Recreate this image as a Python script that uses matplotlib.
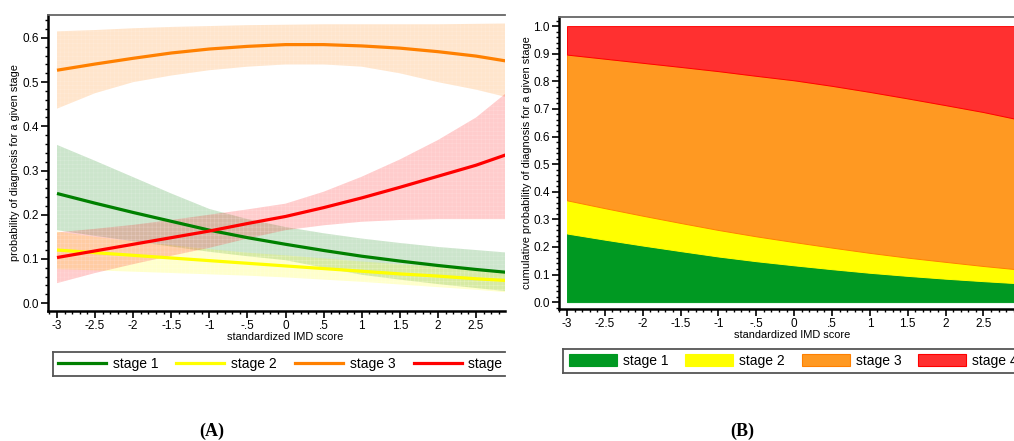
import numpy as np
import matplotlib
matplotlib.use("Agg")
import matplotlib.pyplot as plt
from matplotlib.lines import Line2D
from matplotlib.patches import Patch, Rectangle
from matplotlib.ticker import MultipleLocator

plt.rcParams['font.family'] = ['Liberation Sans', 'DejaVu Sans']
plt.rcParams['hatch.linewidth'] = 0.4

# standardized IMD score
imd = [-3, -2.5, -2, -1.5, -1, -0.5, 0, 0.5, 1, 1.5, 2, 2.5, 3]

# predicted probability per stage
stage1 = [0.248, 0.226, 0.205, 0.185, 0.165, 0.148, 0.133, 0.119, 0.106, 0.095, 0.085, 0.076, 0.068]
stage2 = [0.120, 0.114, 0.108, 0.102, 0.096, 0.090, 0.084, 0.078, 0.072, 0.066, 0.061, 0.055, 0.050]
stage3 = [0.527, 0.541, 0.554, 0.566, 0.575, 0.581, 0.585, 0.585, 0.582, 0.577, 0.569, 0.559, 0.545]
stage4 = [0.103, 0.118, 0.133, 0.148, 0.163, 0.180, 0.196, 0.216, 0.238, 0.262, 0.287, 0.312, 0.342]

# 95% confidence bands
stage1_lo = [0.165, 0.152, 0.140, 0.128, 0.116, 0.106, 0.097, 0.080, 0.064, 0.053, 0.043, 0.034, 0.025]
stage1_hi = [0.358, 0.322, 0.285, 0.248, 0.213, 0.190, 0.172, 0.158, 0.146, 0.136, 0.127, 0.120, 0.113]
stage2_lo = [0.077, 0.074, 0.071, 0.068, 0.065, 0.062, 0.058, 0.053, 0.048, 0.042, 0.036, 0.030, 0.023]
stage2_hi = [0.162, 0.150, 0.140, 0.131, 0.122, 0.114, 0.108, 0.101, 0.094, 0.088, 0.082, 0.076, 0.070]
stage3_lo = [0.440, 0.475, 0.500, 0.515, 0.527, 0.535, 0.540, 0.540, 0.535, 0.520, 0.500, 0.483, 0.462]
stage3_hi = [0.615, 0.618, 0.622, 0.625, 0.627, 0.629, 0.630, 0.631, 0.631, 0.631, 0.631, 0.632, 0.633]
stage4_lo = [0.045, 0.068, 0.088, 0.107, 0.125, 0.146, 0.165, 0.176, 0.184, 0.188, 0.190, 0.190, 0.190]
stage4_hi = [0.160, 0.168, 0.177, 0.188, 0.200, 0.212, 0.225, 0.252, 0.286, 0.325, 0.369, 0.420, 0.490]

labels_a = ['stage 1', 'stage 2', 'stage 3', 'stage 4']
xticks = [-3, -2.5, -2, -1.5, -1, -0.5, 0, 0.5, 1, 1.5, 2, 2.5]
xticklabels = ['-3', '-2.5', '-2', '-1.5', '-1', '-.5', '0', '.5', '1', '1.5', '2', '2.5']

line_colors = ['#008000', '#ffff00', '#ff8000', '#ff0000']
area_colors = ['#009922', '#ffff00', '#ff9922', '#ff3030']
area_edges = ['#009922', '#ffff00', '#ff8000', '#ff0000']

W, H = 1014, 441
fig = plt.figure(figsize=(W / 100, H / 100), dpi=100)


def px(x0, y0, x1, y1):
    # pixel box -> figure fraction
    return [x0 / W, 1 - y1 / H, (x1 - x0) / W, (y1 - y0) / H]


def style_axes(ax):
    ax.spines['right'].set_visible(False)
    ax.spines['left'].set_linewidth(1.8)
    ax.spines['bottom'].set_linewidth(1.8)
    ax.spines['top'].set_color('#666666')
    ax.spines['top'].set_linewidth(1.3)
    ax.set_xticks(xticks)
    ax.set_xticklabels(xticklabels)
    ax.xaxis.set_minor_locator(MultipleLocator(0.1))
    ax.yaxis.set_minor_locator(MultipleLocator(0.02))
    ax.tick_params(which='major', direction='out', length=5, width=1.2, labelsize=8.5, pad=1.5)
    ax.tick_params(which='minor', direction='out', length=2.5, width=1.0)
    ax.tick_params(top=False, right=False)


def legend_box(rect):
    lax = fig.add_axes(rect)
    lax.set_xticks([])
    lax.set_yticks([])
    lax.spines['right'].set_visible(False)
    for s in ['top', 'bottom', 'left']:
        lax.spines[s].set_color('#555555')
        lax.spines[s].set_linewidth(1.3)
    return lax


# ---- panel A: probabilities with confidence bands
ax1 = fig.add_axes(px(48, 15, 505, 311))
bands = [(stage1_lo, stage1_hi), (stage2_lo, stage2_hi), (stage3_lo, stage3_hi), (stage4_lo, stage4_hi)]
for (lo, hi), c in zip(bands, line_colors):
    ax1.fill_between(imd, lo, hi, facecolor=c, alpha=0.2, hatch='++++', edgecolor='white', linewidth=0)
for vals, c in zip([stage1, stage2, stage3, stage4], line_colors):
    ax1.plot(imd, vals, color=c, lw=2.3, solid_capstyle='butt')
ax1.set_xlim(-3.118, 2.88)
ax1.set_ylim(-0.018, 0.652)
ax1.set_yticks([0, 0.1, 0.2, 0.3, 0.4, 0.5, 0.6])
ax1.set_yticklabels(['0.0', '0.1', '0.2', '0.3', '0.4', '0.5', '0.6'])
style_axes(ax1)
ax1.set_xlabel('standardized IMD score', fontsize=7.9)
ax1.xaxis.set_label_coords(0.519, -0.07)
ax1.set_ylabel('probability of diagnosis for a given stage', fontsize=7.9)
ax1.yaxis.set_label_coords(-0.062, 0.5)

lax1 = legend_box(px(53, 352, 505, 376))
h1 = [Line2D([], [], color=c, lw=2.3) for c in line_colors]
leg1 = lax1.legend(h1, labels_a, ncol=4, loc='center left', frameon=False, fontsize=10,
                   handlelength=3.45, handletextpad=0.5, columnspacing=1.3, borderpad=0,
                   borderaxespad=0.0, bbox_to_anchor=(0.011, 0.5))

# ---- panel B: cumulative (stacked) probabilities
ax2 = fig.add_axes(px(559, 17, 1016, 309))
probs = np.array([stage1, stage2, stage3, stage4])
shares = probs / probs.sum(axis=0)
polys = ax2.stackplot(imd, shares, colors=area_colors, linewidth=0.7)
for p, ec in zip(polys, area_edges):
    p.set_edgecolor(ec)
ax2.set_xlim(-3.106, 2.93)
ax2.set_ylim(-0.025, 1.033)
ax2.set_yticks(np.arange(0, 1.01, 0.1))
ax2.set_yticklabels(['%.1f' % v for v in np.arange(0, 1.01, 0.1)])
style_axes(ax2)
ax2.set_xlabel('standardized IMD score', fontsize=7.9)
ax2.xaxis.set_label_coords(0.511, -0.072)
ax2.set_ylabel('cumulative probability of diagnosis for a given stage', fontsize=7.9)
ax2.yaxis.set_label_coords(-0.06, 0.5)

lax2 = legend_box(px(563, 349, 1016, 373))
h2 = [Patch(facecolor=c, edgecolor=e, lw=0.8) for c, e in zip(area_colors, area_edges)]
leg2 = lax2.legend(h2, labels_a, ncol=4, loc='center left', frameon=False, fontsize=10,
                   handlelength=3.45, handleheight=1.0, handletextpad=0.43, columnspacing=1.22,
                   borderpad=0, borderaxespad=0.0, bbox_to_anchor=(0.013, 0.5))

# panel A is a cropped screenshot: blank out whatever spills past its right edge
fig.patches.append(Rectangle((506 / W, 1 - 385 / H), 40 / W, 45 / H, transform=fig.transFigure,
                             facecolor='white', edgecolor='none', zorder=10))

fig.text(212 / W, 1 - 431 / H, '(A)', ha='center', va='center', fontsize=13,
         fontweight='bold', family='Liberation Serif')
fig.text(742 / W, 1 - 431 / H, '(B)', ha='center', va='center', fontsize=13,
         fontweight='bold', family='Liberation Serif')

fig.savefig('out.png', dpi=100)
